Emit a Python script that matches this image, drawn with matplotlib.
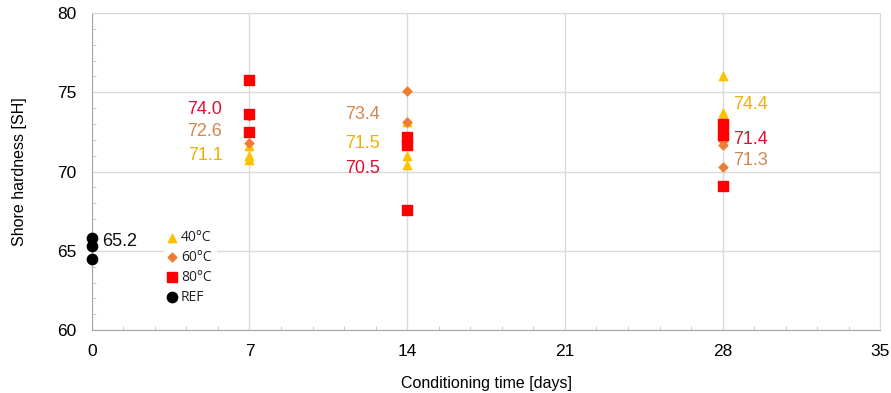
import matplotlib
matplotlib.use('Agg')
import matplotlib.pyplot as plt
from matplotlib.ticker import MultipleLocator

plt.rcParams['font.family'] = ['Liberation Sans', 'DejaVu Sans']

# data
ref_x = [0, 0, 0]
ref_y = [65.8, 65.3, 64.5]

days = [7, 7, 7, 14, 14, 14, 28, 28, 28]
h40 = [71.6, 71.0, 70.7, 73.1, 71.0, 70.4, 76.0, 73.7, 73.5]
h60 = [73.5, 72.5, 71.8, 75.1, 73.1, 72.0, 71.9, 71.7, 70.3]
h80 = [75.8, 73.6, 72.5, 72.2, 71.7, 67.6, 73.0, 72.3, 69.1]

# mean labels: text, x, y, colour
lab_text = ['74.0', '72.6', '71.1', '73.4', '71.5', '70.5', '74.4', '71.4', '71.3', '65.2']
lab_x = [5.8, 5.8, 5.8, 12.8, 12.8, 12.8, 28.45, 28.45, 28.45, 0.45]
lab_y = [73.9, 72.5, 71.0, 73.6, 71.8, 70.2, 74.2, 72.0, 70.7, 65.6]
lab_c = ['#E0102F', '#D2874F', '#EEB000', '#D2874F', '#EEB000', '#E0102F',
         '#EEB000', '#E0102F', '#D2874F', '#111111']
lab_ha = ['right'] * 6 + ['left'] * 4

fig = plt.figure(figsize=(8.91, 3.93), dpi=100)
ax = fig.add_axes([0.103, 0.160, 0.885, 0.807])

ax.scatter(days, h40, marker='^', s=36, color='#FFC000', label='40°C', zorder=3)
ax.scatter(days, h60, marker='D', s=20, color='#ED7D31', label='60°C', zorder=3)
ax.scatter(days, h80, marker='s', s=55, color='#FF0000', label='80°C', zorder=4)
ax.scatter(ref_x, ref_y, marker='o', s=55, color='black', label='REF', zorder=4, clip_on=False)

for t, x, y, c, ha in zip(lab_text, lab_x, lab_y, lab_c, lab_ha):
    ax.text(x, y, t, color=c, fontsize=13, ha=ha, va='center', zorder=5)

ax.set_xlim(0, 35)
ax.set_ylim(60, 80)
ax.xaxis.set_major_locator(MultipleLocator(7))
ax.xaxis.set_minor_locator(MultipleLocator(1.4))
ax.yaxis.set_major_locator(MultipleLocator(5))
ax.yaxis.set_minor_locator(MultipleLocator(1))
ax.grid(True, which='major', color='#d9d9d9', lw=1)
ax.set_axisbelow(True)
ax.tick_params(which='both', direction='in', color='#bfbfbf', labelsize=12.5, length=0)
ax.tick_params(axis='x', pad=10)
ax.tick_params(axis='y', pad=11)
ax.tick_params(which='minor', length=3)
for s in ax.spines.values():
    s.set_color('#d9d9d9')
ax.spines['left'].set_color('#a6a6a6')
ax.spines['bottom'].set_color('#a6a6a6')

ax.set_xlabel('Conditioning time [days]', fontsize=11.5, labelpad=12)
ax.set_ylabel('Shore hardness [SH]', fontsize=11.5, labelpad=22)

leg = ax.legend(loc='lower left', bbox_to_anchor=(0.083, 0.045), frameon=True,
                framealpha=1, edgecolor='white', handlelength=0.6,
                handletextpad=0.3, labelspacing=0.35, borderpad=0.3,
                prop={'family': ['Open Sans', 'DejaVu Sans'], 'size': 10})
for t in leg.get_texts():
    t.set_color('#222222')

fig.savefig('out.png', dpi=100)
